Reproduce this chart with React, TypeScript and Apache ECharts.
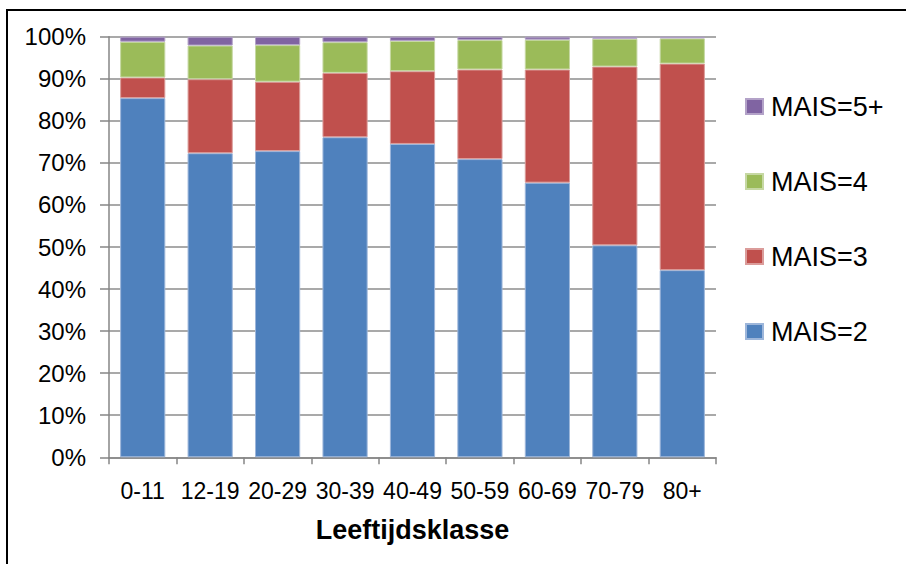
import React, { useEffect, useRef } from "react";
import * as echarts from "echarts";

const categories = ["0-11", "12-19", "20-29", "30-39", "40-49", "50-59", "60-69", "70-79", "80+"];
const mais2 = [85.4, 72.3, 72.8, 76.1, 74.5, 70.9, 65.3, 50.4, 44.5];
const mais3 = [4.9, 17.6, 16.5, 15.3, 17.3, 21.3, 26.9, 42.5, 49.1];
const mais4 = [8.5, 8.0, 8.7, 7.3, 7.2, 7.0, 7.1, 6.6, 6.0];
const mais5 = [1.2, 2.1, 2.0, 1.3, 1.0, 0.8, 0.7, 0.5, 0.4];
const seriesNames = ["MAIS=2", "MAIS=3", "MAIS=4", "MAIS=5+"];
const colors = ["#4F81BD", "#C0504D", "#9BBB59", "#8064A2"];
const edgeColors = ["#9DB6DA", "#DB9C9A", "#C6D8A3", "#B3A2C8"];

const FONT = "'Liberation Sans', Arial, sans-serif";

export default function App() {
  const ref = useRef<HTMLDivElement>(null);

  useEffect(() => {
    if (!ref.current) return;
    const chart = echarts.init(ref.current, null, { renderer: "svg" });
    const values = [mais2, mais3, mais4, mais5];
    chart.setOption({
      animation: false,
      backgroundColor: "#ffffff",
      textStyle: { fontFamily: FONT, color: "#000" },
      graphic: [
        {
          type: "polyline",
          shape: { points: [[7, 600], [7, 10], [920, 10]] },
          style: { stroke: "#000", lineWidth: 2, fill: "none" },
          silent: true,
        },
      ],
      grid: { left: 109, right: 190, top: 36.7, bottom: 106.7, containLabel: false },
      legend: {
        orient: "vertical",
        left: 740,
        top: 88,
        itemWidth: 17,
        itemHeight: 15,
        itemGap: 48,
        icon: "rect",
        data: ["MAIS=5+", "MAIS=4", "MAIS=3", "MAIS=2"],
        textStyle: { fontFamily: FONT, fontSize: 27, color: "#000", lineHeight: 27, padding: [0, 0, 0, 3] },
      },
      xAxis: {
        type: "category",
        data: categories,
        name: "Leeftijdsklasse",
        nameLocation: "middle",
        nameGap: 59,
        nameTextStyle: { fontFamily: FONT, fontSize: 27, fontWeight: "bold", color: "#000" },
        axisLine: { lineStyle: { color: "#868686", width: 1.5 } },
        axisTick: { show: true, length: 7, lineStyle: { color: "#868686", width: 1.5 } },
        axisLabel: { fontFamily: FONT, fontSize: 23, color: "#000", margin: 22, interval: 0 },
      },
      yAxis: {
        type: "value",
        min: 0,
        max: 100,
        interval: 10,
        axisLine: { show: true, lineStyle: { color: "#868686", width: 1.5 } },
        axisTick: { show: true, length: 9, lineStyle: { color: "#868686", width: 1.5 } },
        splitLine: { show: true, lineStyle: { color: "#8c8c8c", width: 1.5 } },
        axisLabel: { fontFamily: FONT, fontSize: 24, color: "#000", margin: 23, formatter: "{value}%" },
      },
      series: seriesNames.map((name, i) => ({
        name,
        type: "bar",
        stack: "total",
        barCategoryGap: "33%",
        data: values[i],
        itemStyle: { color: colors[i], borderColor: edgeColors[i], borderWidth: 1 },
      })),
    });
    return () => chart.dispose();
  }, []);

  return (
    <div
      ref={ref}
      style={{ position: "fixed", left: 0, top: 0, width: 906, height: 564, background: "#fff" }}
    />
  );
}
